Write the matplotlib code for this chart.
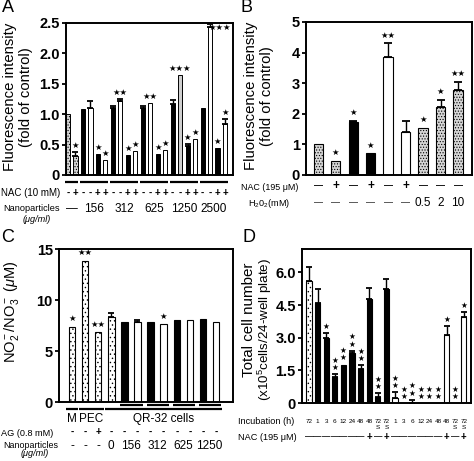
import numpy as np
import matplotlib
matplotlib.use('Agg')
import matplotlib.pyplot as plt
from matplotlib.transforms import blended_transform_factory as btf

plt.rcParams['font.family'] = ['Liberation Sans', 'DejaVu Sans']
plt.rcParams['mathtext.fontset'] = 'custom'
plt.rcParams['mathtext.rm'] = 'Liberation Sans'
plt.rcParams['mathtext.it'] = 'Liberation Sans:italic'
plt.rcParams['hatch.linewidth'] = 0.5

nan = np.nan

# ---------------- Panel A data ----------------
a_values = [1.00, 0.31, 1.08, 1.11, 0.35, 0.25, 1.10, 1.22, 0.33, 0.40, 1.11,
            1.19, 0.35, 0.41, 1.17, 1.64, 0.47, 0.60, 1.11, 2.44, 0.44, 0.84]
a_err_top = [nan, 0.38, nan, 1.21, nan, nan, 1.13, 1.25, nan, nan, 1.13,
             nan, nan, nan, 1.23, nan, 0.51, nan, nan, 2.48, nan, 0.92]
a_sig = ['', '*', '', '', '*', '*', '', '**', '*', '*', '',
         '**', '*', '*', '', '***', '*', '*', '', '***', '*', '*']
a_kind = ['dot', 'dot'] + ['black', 'white', 'black', 'white'] * 3 + \
         ['black', 'gray', 'black', 'white'] + ['black', 'white', 'black', 'white']
a_nac = ['-', '+'] + ['-', '-', '+', '+'] * 5
a_groups = ['—', '156', '312', '625', '1250', '2500']
a_group_sizes = [2, 4, 4, 4, 4, 4]
a_yticks = [0, 0.5, 1.0, 1.5, 2.0, 2.5]
a_yticklabels = ['0', '0.5', '1.0', '1.5', '2.0', '2.5']

# ---------------- Panel B data ----------------
b_values = [1.00, 0.47, 1.74, 0.71, 3.85, 1.41, 1.55, 2.21, 2.77]
b_err_top = [nan, nan, 1.78, nan, 4.30, 1.76, nan, 2.45, 3.05]
b_sig = ['', '*', '*', '*', '**', '', '*', '*', '**']
b_kind = ['dot', 'dot', 'black', 'black', 'white', 'white', 'dot', 'dot', 'dot']
b_nac = ['—', '+', '—', '+', '—', '+', '—', '—', '—']
b_h2o2 = ['—', '—', '—', '—', '—', '—', '0.5', '2', '10']
b_yticks = [0, 1, 2, 3, 4, 5]

# ---------------- Panel C data ----------------
c_values = [7.4, 13.85, 6.85, 8.3, 7.85, 7.85, 7.8, 7.6, 8.0, 8.0, 8.1, 7.8]
c_err_top = [nan, nan, nan, 8.7, nan, 8.0, nan, nan, nan, nan, nan, nan]
c_sig = ['*', '**', '**', '', '', '', '', '*', '', '', '', '']
c_kind = ['vdot', 'vdot', 'vdot', 'vdot'] + ['black', 'white'] * 4
c_ag = ['-', '-', '+', '-', '-', '-', '-', '-', '-', '-', '-', '-']
c_nano_single = ['-', '-', '-', '0']
c_nano_groups = ['156', '312', '625', '1250']
c_cells = ['M', 'PEC', 'QR-32 cells']
c_cell_sizes = [1, 2, 9]
c_yticks = [0, 5, 10, 15]

# ---------------- Panel D data ----------------
d_values = [5.62, 4.61, 3.00, 1.20, 1.77, 2.28, 1.55, 4.79, 0.28, 5.22,
            0.25, 0.0, 0.0, 0.0, 0.0, 0.0, 3.12, 0.0, 3.96]
d_err_top = [6.24, 5.22, 3.23, 1.32, nan, 2.40, 1.74, 5.27, 0.46, 5.69,
             0.50, nan, 0.15, nan, nan, nan, 3.53, nan, 4.19]
d_sig = ['', '', '*', '**', '**', '**', '**', '', '**', '',
         '**', '**', '**', '**', '**', '**', '*', '**', '*']
d_kind = ['vdot'] + ['black'] * 9 + ['white'] * 9
d_incub = ['72', '1', '3', '6', '12', '24', '48', '48', '72', '72',
           '1', '3', '6', '12', '24', '48', '48', '72', '72']
d_s = ['', '', '', '', '', '', '', '', 'S', 'S',
       '', '', '', '', '', '', '', 'S', 'S']
d_nac = ['—'] * 7 + ['+', '—', '+'] + ['—'] * 6 + ['+', '—', '+']
d_yticks = [0, 1.5, 3.0, 4.5, 6.0]
d_yticklabels = ['0', '1.5', '3.0', '4.5', '6.0']

# ---------------- figure helpers ----------------
W, H = 474, 461
fig = plt.figure(figsize=(W / 100, H / 100), dpi=100)


def fx(px):
    return px / W


def fy(py):
    return 1 - py / H


def make_ax(l, r, t, b):
    return fig.add_axes([fx(l), fy(b), (r - l) / W, (b - t) / H])


STYLE = {
    'black': dict(facecolor='black', hatch=None),
    'white': dict(facecolor='white', hatch=None),
    'gray': dict(facecolor='#cfcfcf', hatch=None),
    'dot': dict(facecolor='#d6d6d6', hatch='......'),
    'vdot': dict(facecolor='white', hatch='....'),
}


def draw(ax, vals, errs, kinds, width, lw, capsize):
    x = np.arange(len(vals))
    for i, (v, k) in enumerate(zip(vals, kinds)):
        st = STYLE[k]
        ax.bar(x[i], v, width=width, facecolor=st['facecolor'], hatch=st['hatch'],
               edgecolor='black', linewidth=lw, zorder=2)
    errs = np.array(errs, dtype=float)
    vals_a = np.array(vals, dtype=float)
    m = ~np.isnan(errs)
    ax.errorbar(x[m], vals_a[m], yerr=[np.zeros(m.sum()), errs[m] - vals_a[m]],
                fmt='none', ecolor='black', elinewidth=1.0, capsize=capsize,
                capthick=1.3, zorder=3)
    return x


def style_ax(ax, yt, ytl, ylim, xlim):
    ax.set_ylim(*ylim)
    ax.set_xlim(*xlim)
    ax.set_xticks([])
    ax.set_yticks(yt)
    ax.set_yticklabels(ytl, fontweight='bold', fontsize=10.5)
    ax.tick_params(axis='y', direction='out', length=3, width=1.3, pad=1.5)
    for s in ax.spines.values():
        s.set_linewidth(1.4)


def stars(ax, x, y, s, size, stacked=False, dx=0):
    if not s:
        return
    if stacked:
        txt = '\n'.join(['★'] * len(s))
        ax.text(x + dx, y, txt, ha='center', va='bottom', fontsize=size,
                family='DejaVu Sans', linespacing=0.75, zorder=4)
    else:
        ax.text(x + dx, y, '★' * len(s), ha='center', va='bottom', fontsize=size,
                family='DejaVu Sans', zorder=4)


# ================= Panel A =================
axA = make_ax(66, 233, 23, 175)
xa = draw(axA, a_values, a_err_top, a_kind, 0.55, 0.7, 2.0)
topA = [max(v, e) if not np.isnan(e) else v for v, e in zip(a_values, a_err_top)]
for i, s in enumerate(a_sig):
    if topA[i] + 0.15 > 2.5:
        stars(axA, xa[i], topA[i] - 0.12, s, 6, dx=1.3)
    else:
        stars(axA, xa[i], topA[i] + 0.03, s, 6)
style_ax(axA, a_yticks, a_yticklabels, (0, 2.5), (-0.27, 22.07))
trA = btf(axA.transData, fig.transFigure)
start = 0
for g, n in zip(a_groups, a_group_sizes):
    idx = np.arange(start, start + n)
    axA.plot([idx[0] - 0.4, idx[-1] + 0.4], [fy(182), fy(182)], color='black', lw=1.6,
             transform=trA, clip_on=False, solid_capstyle='butt')
    axA.text(idx.mean(), fy(209), g, transform=trA, ha='center', va='center', fontsize=8.5)
    start += n
for i, s in enumerate(a_nac):
    axA.text(xa[i], fy(193), s, transform=trA, ha='center', va='center', fontsize=7,
             fontweight='bold')
fig.text(fx(1), fy(193), 'NAC (10 mM)', ha='left', va='center', fontsize=7)
fig.text(fx(60), fy(208), 'Nanoparticles', ha='right', va='center', fontsize=6.6)
fig.text(fx(37), fy(219), '(μg/ml)', ha='center', va='center', fontsize=6.6, style='italic')
fig.text(fx(10), fy(97), 'Fluorescence intensity', rotation=90, ha='center', va='center', fontsize=10.7)
fig.text(fx(26), fy(97), '(fold of control)', rotation=90, ha='center', va='center', fontsize=10.7)
fig.text(fx(8), fy(8), 'A', ha='center', va='center', fontsize=13)

# ================= Panel B =================
axB = make_ax(306, 472, 22, 175)
xb = draw(axB, b_values, b_err_top, b_kind, 0.52, 0.8, 2.6)
topB = [max(v, e) if not np.isnan(e) else v for v, e in zip(b_values, b_err_top)]
for i, s in enumerate(b_sig):
    stars(axB, xb[i], topB[i] + 0.12, s, 6)
style_ax(axB, b_yticks, [str(t) for t in b_yticks], (0, 5), (-0.69, 8.8))
trB = btf(axB.transData, fig.transFigure)
for i, s in enumerate(b_nac):
    axB.text(xb[i], fy(186), s, transform=trB, ha='center', va='center',
             fontsize=8.5 if s == '+' else 6.5, fontweight='bold')
for i, s in enumerate(b_h2o2):
    axB.text(xb[i], fy(203), s, transform=trB, ha='center', va='center',
             fontsize=6.5 if s == '—' else 8.5, fontweight='normal')
fig.text(fx(241), fy(187.5), 'NAC (195 μM)', ha='left', va='center', fontsize=6.4)
fig.text(fx(248), fy(203), 'H$_2$0$_2$(mM)', ha='left', va='center', fontsize=6.6)
fig.text(fx(251), fy(96), 'Fluorescence intensity', rotation=90, ha='center', va='center', fontsize=10.7)
fig.text(fx(267), fy(96), '(fold of control)', rotation=90, ha='center', va='center', fontsize=10.7)
fig.text(fx(247), fy(8), 'B', ha='center', va='center', fontsize=13)

# ================= Panel C =================
axC = make_ax(59, 233, 249, 402)
xc = draw(axC, c_values, c_err_top, c_kind, 0.5, 0.8, 2.2)
topC = [max(v, e) if not np.isnan(e) else v for v, e in zip(c_values, c_err_top)]
for i, s in enumerate(c_sig):
    stars(axC, xc[i], topC[i] + 0.35, s, 6)
style_ax(axC, c_yticks, [str(t) for t in c_yticks], (0, 15), (-0.99, 12.29))
trC = btf(axC.transData, fig.transFigure)
start = 0
for name, n in zip(c_cells, c_cell_sizes):
    idx = np.arange(start, start + n)
    axC.plot([idx[0] - 0.45, idx[-1] + 0.45], [fy(409), fy(409)], color='black', lw=1.6,
             transform=trC, clip_on=False, solid_capstyle='butt')
    axC.text(idx.mean(), fy(419), name, transform=trC, ha='center', va='center', fontsize=8.5)
    start += n
for j, g in enumerate(c_nano_groups):
    idx = np.array([4 + 2 * j, 5 + 2 * j])
    axC.plot([idx[0] - 0.3, idx[-1] + 0.4], [fy(405), fy(405)], color='black', lw=1.6,
             transform=trC, clip_on=False, solid_capstyle='butt')
    axC.text(idx.mean(), fy(446), g, transform=trC, ha='center', va='center', fontsize=8.5)
for i, s in enumerate(c_nano_single):
    axC.text(xc[i], fy(446), s, transform=trC, ha='center', va='center', fontsize=8.5)
for i, s in enumerate(c_ag):
    axC.text(xc[i], fy(432), s, transform=trC, ha='center', va='center', fontsize=7,
             fontweight='bold')
fig.text(fx(1), fy(433), 'AG (0.8 mM)', ha='left', va='center', fontsize=6.6)
fig.text(fx(58), fy(445), 'Nanoparticles', ha='right', va='center', fontsize=6.4)
fig.text(fx(35), fy(453), '(μg/ml)', ha='center', va='center', fontsize=6.6, style='italic')
fig.text(fx(12), fy(312), 'NO$_2^-$/NO$_3^-$ ($\\mu$M)', rotation=90, ha='center', va='center', fontsize=10.5)
fig.text(fx(8), fy(237), 'C', ha='center', va='center', fontsize=13)

# ================= Panel D =================
axD = make_ax(302, 471, 249, 403)
xd = draw(axD, d_values, d_err_top, d_kind, 0.62, 0.8, 2.3)
topD = [max(v, e) if not np.isnan(e) else v for v, e in zip(d_values, d_err_top)]
for i, s in enumerate(d_sig):
    stars(axD, xd[i], topD[i] + 0.1, s, 5.5, stacked=(len(s) > 1))
style_ax(axD, d_yticks, d_yticklabels, (0, 7.08), (-0.81, 18.84))
trD = btf(axD.transData, fig.transFigure)
for i, s in enumerate(d_incub):
    axD.text(xd[i], fy(421.5), s, transform=trD, ha='center', va='center', fontsize=4.6)
for i, s in enumerate(d_s):
    if s:
        axD.text(xd[i], fy(427), s, transform=trD, ha='center', va='center', fontsize=4.6)
for i, s in enumerate(d_nac):
    axD.text(xd[i], fy(437), s, transform=trD, ha='center', va='center',
             fontsize=7 if s == '+' else 6, fontweight='bold')
fig.text(fx(238), fy(422), 'Incubation (h)', ha='left', va='center', fontsize=6.6)
fig.text(fx(238), fy(437), 'NAC (195 μM)', ha='left', va='center', fontsize=6.6)
fig.text(fx(249), fy(320), 'Total cell number', rotation=90, ha='center', va='center', fontsize=10.9)
fig.text(fx(264.5), fy(330), '(x10$^5$cells/24-well plate)', rotation=90, ha='center', va='center', fontsize=9.6)
fig.text(fx(249), fy(237), 'D', ha='center', va='center', fontsize=13)

fig.savefig('out.png', dpi=100)
